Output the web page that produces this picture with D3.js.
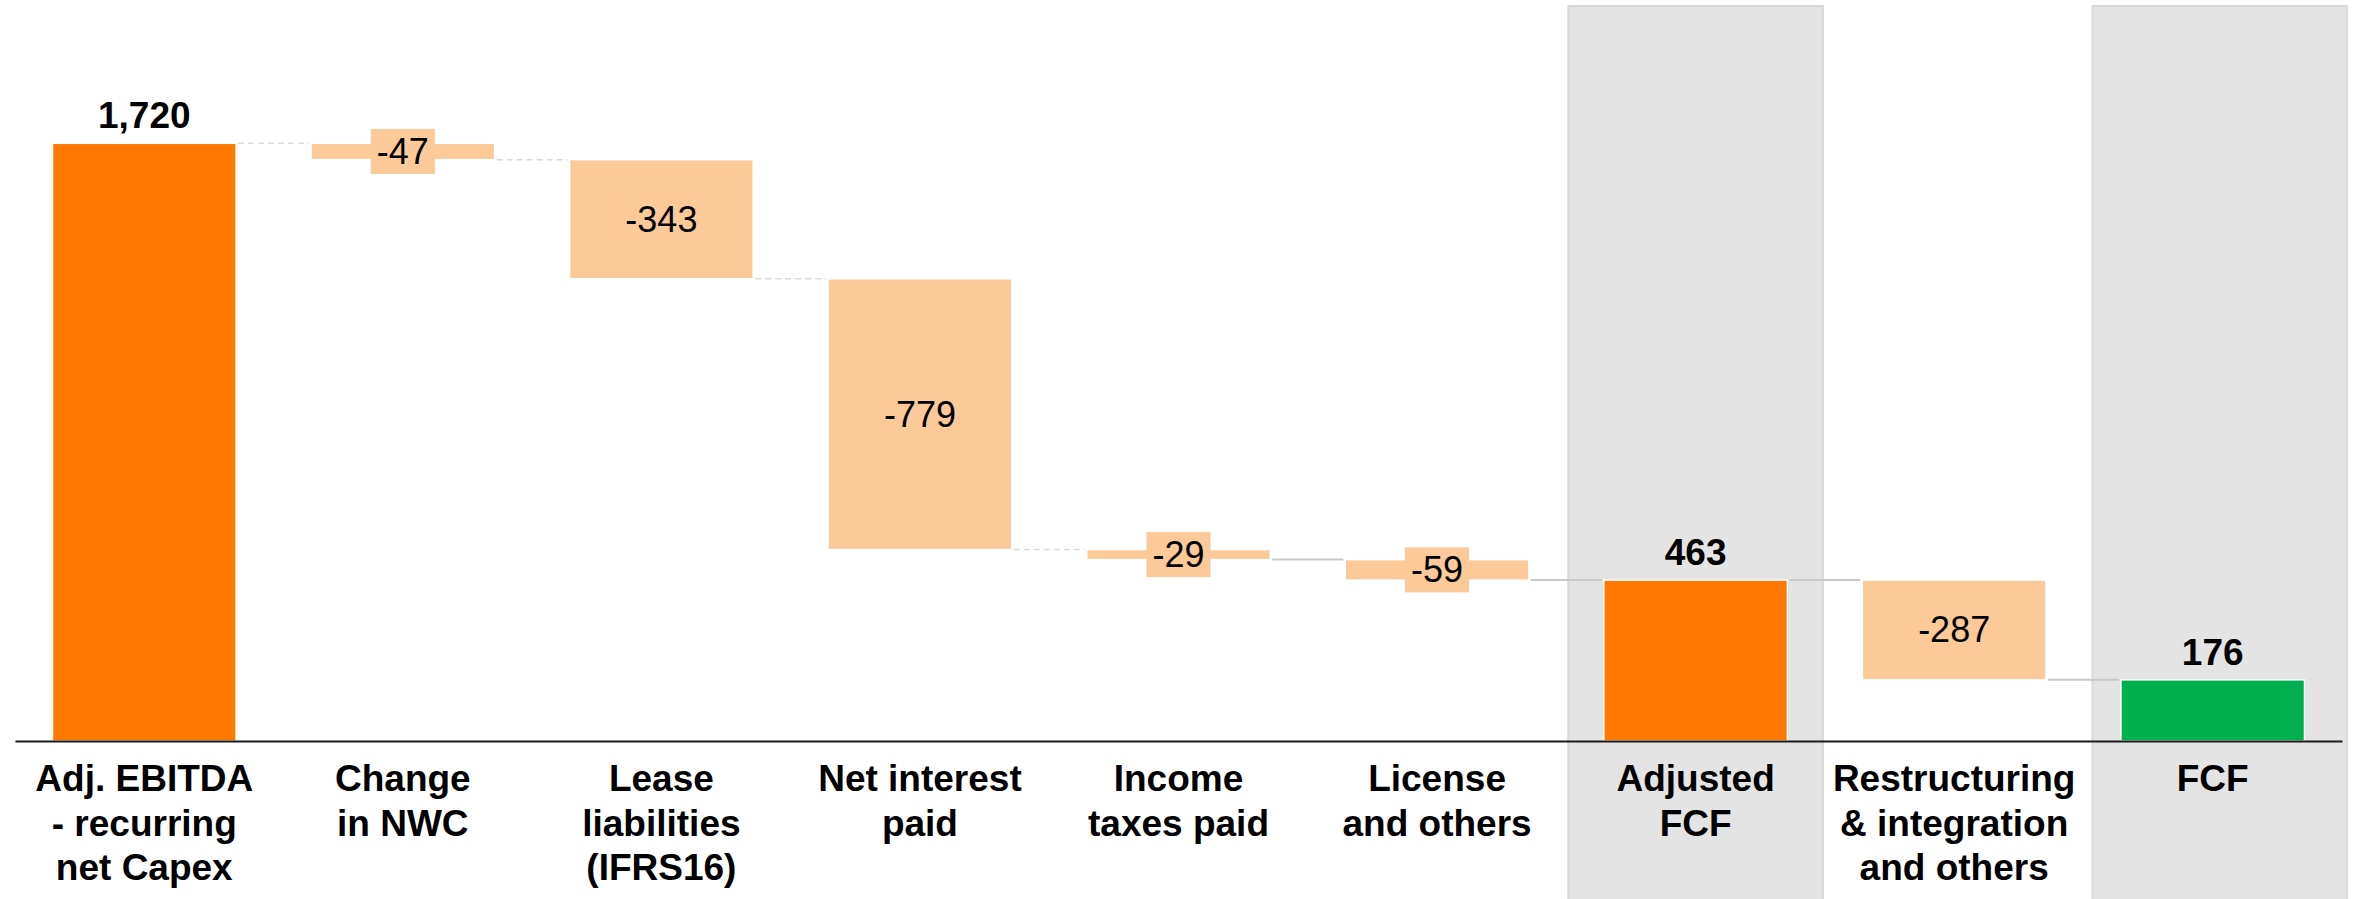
<!DOCTYPE html>
<html>
<head>
<meta charset="utf-8">
<script src="https://cdn.jsdelivr.net/npm/d3@7"></script>
<style>
  html, body { margin: 0; padding: 0; background: #fff; }
  svg { display: block; font-family: "Liberation Sans", Arial, sans-serif; }
</style>
</head>
<body>
<svg id="chart" width="2357" height="899"></svg>
<script>
// Free cash flow bridge (waterfall)
const categories = [
  "Adj. EBITDA\n- recurring\nnet Capex",
  "Change\nin NWC",
  "Lease\nliabilities\n(IFRS16)",
  "Net interest\npaid",
  "Income\ntaxes paid",
  "License\nand others",
  "Adjusted\nFCF",
  "Restructuring\n& integration\nand others",
  "FCF"
];
const values = [1720, -47, -343, -779, -29, -59, 463, -287, 176];
const valueLabels = ["1,720", "-47", "-343", "-779", "-29", "-59", "463", "-287", "176"];
const barKinds = ["total", "delta", "delta", "delta", "delta", "delta", "total", "delta", "final"];
const shadedColumns = ["Adjusted\nFCF", "FCF"];
const connectorKinds = ["dashed", "dashed", "dashed", "dashed", "solid", "solid", "solid", "solid"];

const colors = { total: "#FF7900", delta: "#FCC998", final: "#00AF50" };

const W = 2357, H = 899;
const svg = d3.select("#chart");

// running levels for the waterfall
let level = 0;
const bars = categories.map((c, i) => {
  const v = values[i];
  let start, end;
  if (barKinds[i] === "delta") { start = level; end = level + v; }
  else { start = 0; end = v; }
  level = end;
  return { cat: c, value: v, label: valueLabels[i], kind: barKinds[i], start, end };
});

const x = d3.scaleBand()
  .domain(categories)
  .range([15, 2342])
  .paddingInner(0.29)
  .paddingOuter(0.145);

const y = d3.scaleLinear()
  .domain([0, 1720])
  .range([741, 143.3]);

const bw = x.bandwidth();
const step = x.step();

// shaded background columns (the last one sits against the right edge)
svg.append("g").selectAll("rect")
  .data(shadedColumns)
  .join("rect")
  .attr("x", (d, i) => x(d) + bw / 2 - step / 2 + 2 + (i === shadedColumns.length - 1 ? 7 : 0))
  .attr("y", 6)
  .attr("width", step - 4)
  .attr("height", H)
  .attr("fill", "#E4E4E4")
  .attr("stroke", "#D8D8D8")
  .attr("stroke-width", 2);

// connectors between consecutive bars
const links = bars.slice(0, -1).map((b, i) => ({
  x1: x(b.cat) + bw + 2,
  x2: x(bars[i + 1].cat) - 2,
  v: b.end,
  kind: connectorKinds[i]
}));
svg.append("g").selectAll("line")
  .data(links)
  .join("line")
  .attr("x1", d => d.x1)
  .attr("x2", d => d.x2)
  .attr("y1", d => y(d.v))
  .attr("y2", d => y(d.v))
  .attr("stroke", d => d.kind === "dashed" ? "#DADADA" : "#C9C9C9")
  .attr("stroke-width", d => d.kind === "dashed" ? 1.5 : 2)
  .attr("stroke-dasharray", d => d.kind === "dashed" ? "6,4" : null);

// bars
svg.append("g").selectAll("rect")
  .data(bars)
  .join("rect")
  .attr("x", d => x(d.cat))
  .attr("y", d => y(Math.max(d.start, d.end)))
  .attr("width", bw)
  .attr("height", d => Math.abs(y(d.start) - y(d.end)))
  .attr("fill", d => colors[d.kind])
  .attr("stroke", "#FFFFFF")
  .attr("stroke-width", 1.5);

// x axis with multi-line category labels
const axis = svg.append("g")
  .attr("transform", `translate(0,${y(0)})`)
  .call(d3.axisBottom(x).tickSize(0).tickSizeOuter(0));
axis.select(".domain").attr("stroke", "#1a1a1a").attr("stroke-width", 2);
axis.selectAll(".tick text").each(function(d) {
  const t = d3.select(this);
  t.text(null).attr("y", 0).attr("dy", null)
    .attr("fill", "#000")
    .attr("font-size", 37)
    .attr("font-weight", "bold")
    .attr("font-family", "'Liberation Sans', Arial, sans-serif");
  d.split("\n").forEach((line, k) => {
    t.append("tspan").attr("x", 0).attr("y", 50 + k * 44.5).text(line);
  });
});

// value labels: totals above the bar, deltas centred in the bar on a tag
const lbl = svg.append("g");
bars.forEach(b => {
  const cx = x(b.cat) + bw / 2;
  if (b.kind === "delta") {
    const cy = (y(b.start) + y(b.end)) / 2;
    const g = lbl.append("g");
    const t = g.append("text")
      .attr("x", cx)
      .attr("y", cy)
      .attr("text-anchor", "middle")
      .attr("dominant-baseline", "central")
      .attr("font-size", 36)
      .attr("fill", "#000")
      .text(b.label);
    const bb = t.node().getBBox();
    g.insert("rect", "text")
      .attr("x", cx - bb.width / 2 - 6)
      .attr("y", cy - 22.5)
      .attr("width", bb.width + 12)
      .attr("height", 45)
      .attr("fill", colors.delta);
  } else {
    lbl.append("text")
      .attr("x", cx)
      .attr("y", y(b.end) - 15)
      .attr("text-anchor", "middle")
      .attr("font-size", 37)
      .attr("font-weight", "bold")
      .attr("fill", "#000")
      .text(b.label);
  }
});
</script>
</body>
</html>
